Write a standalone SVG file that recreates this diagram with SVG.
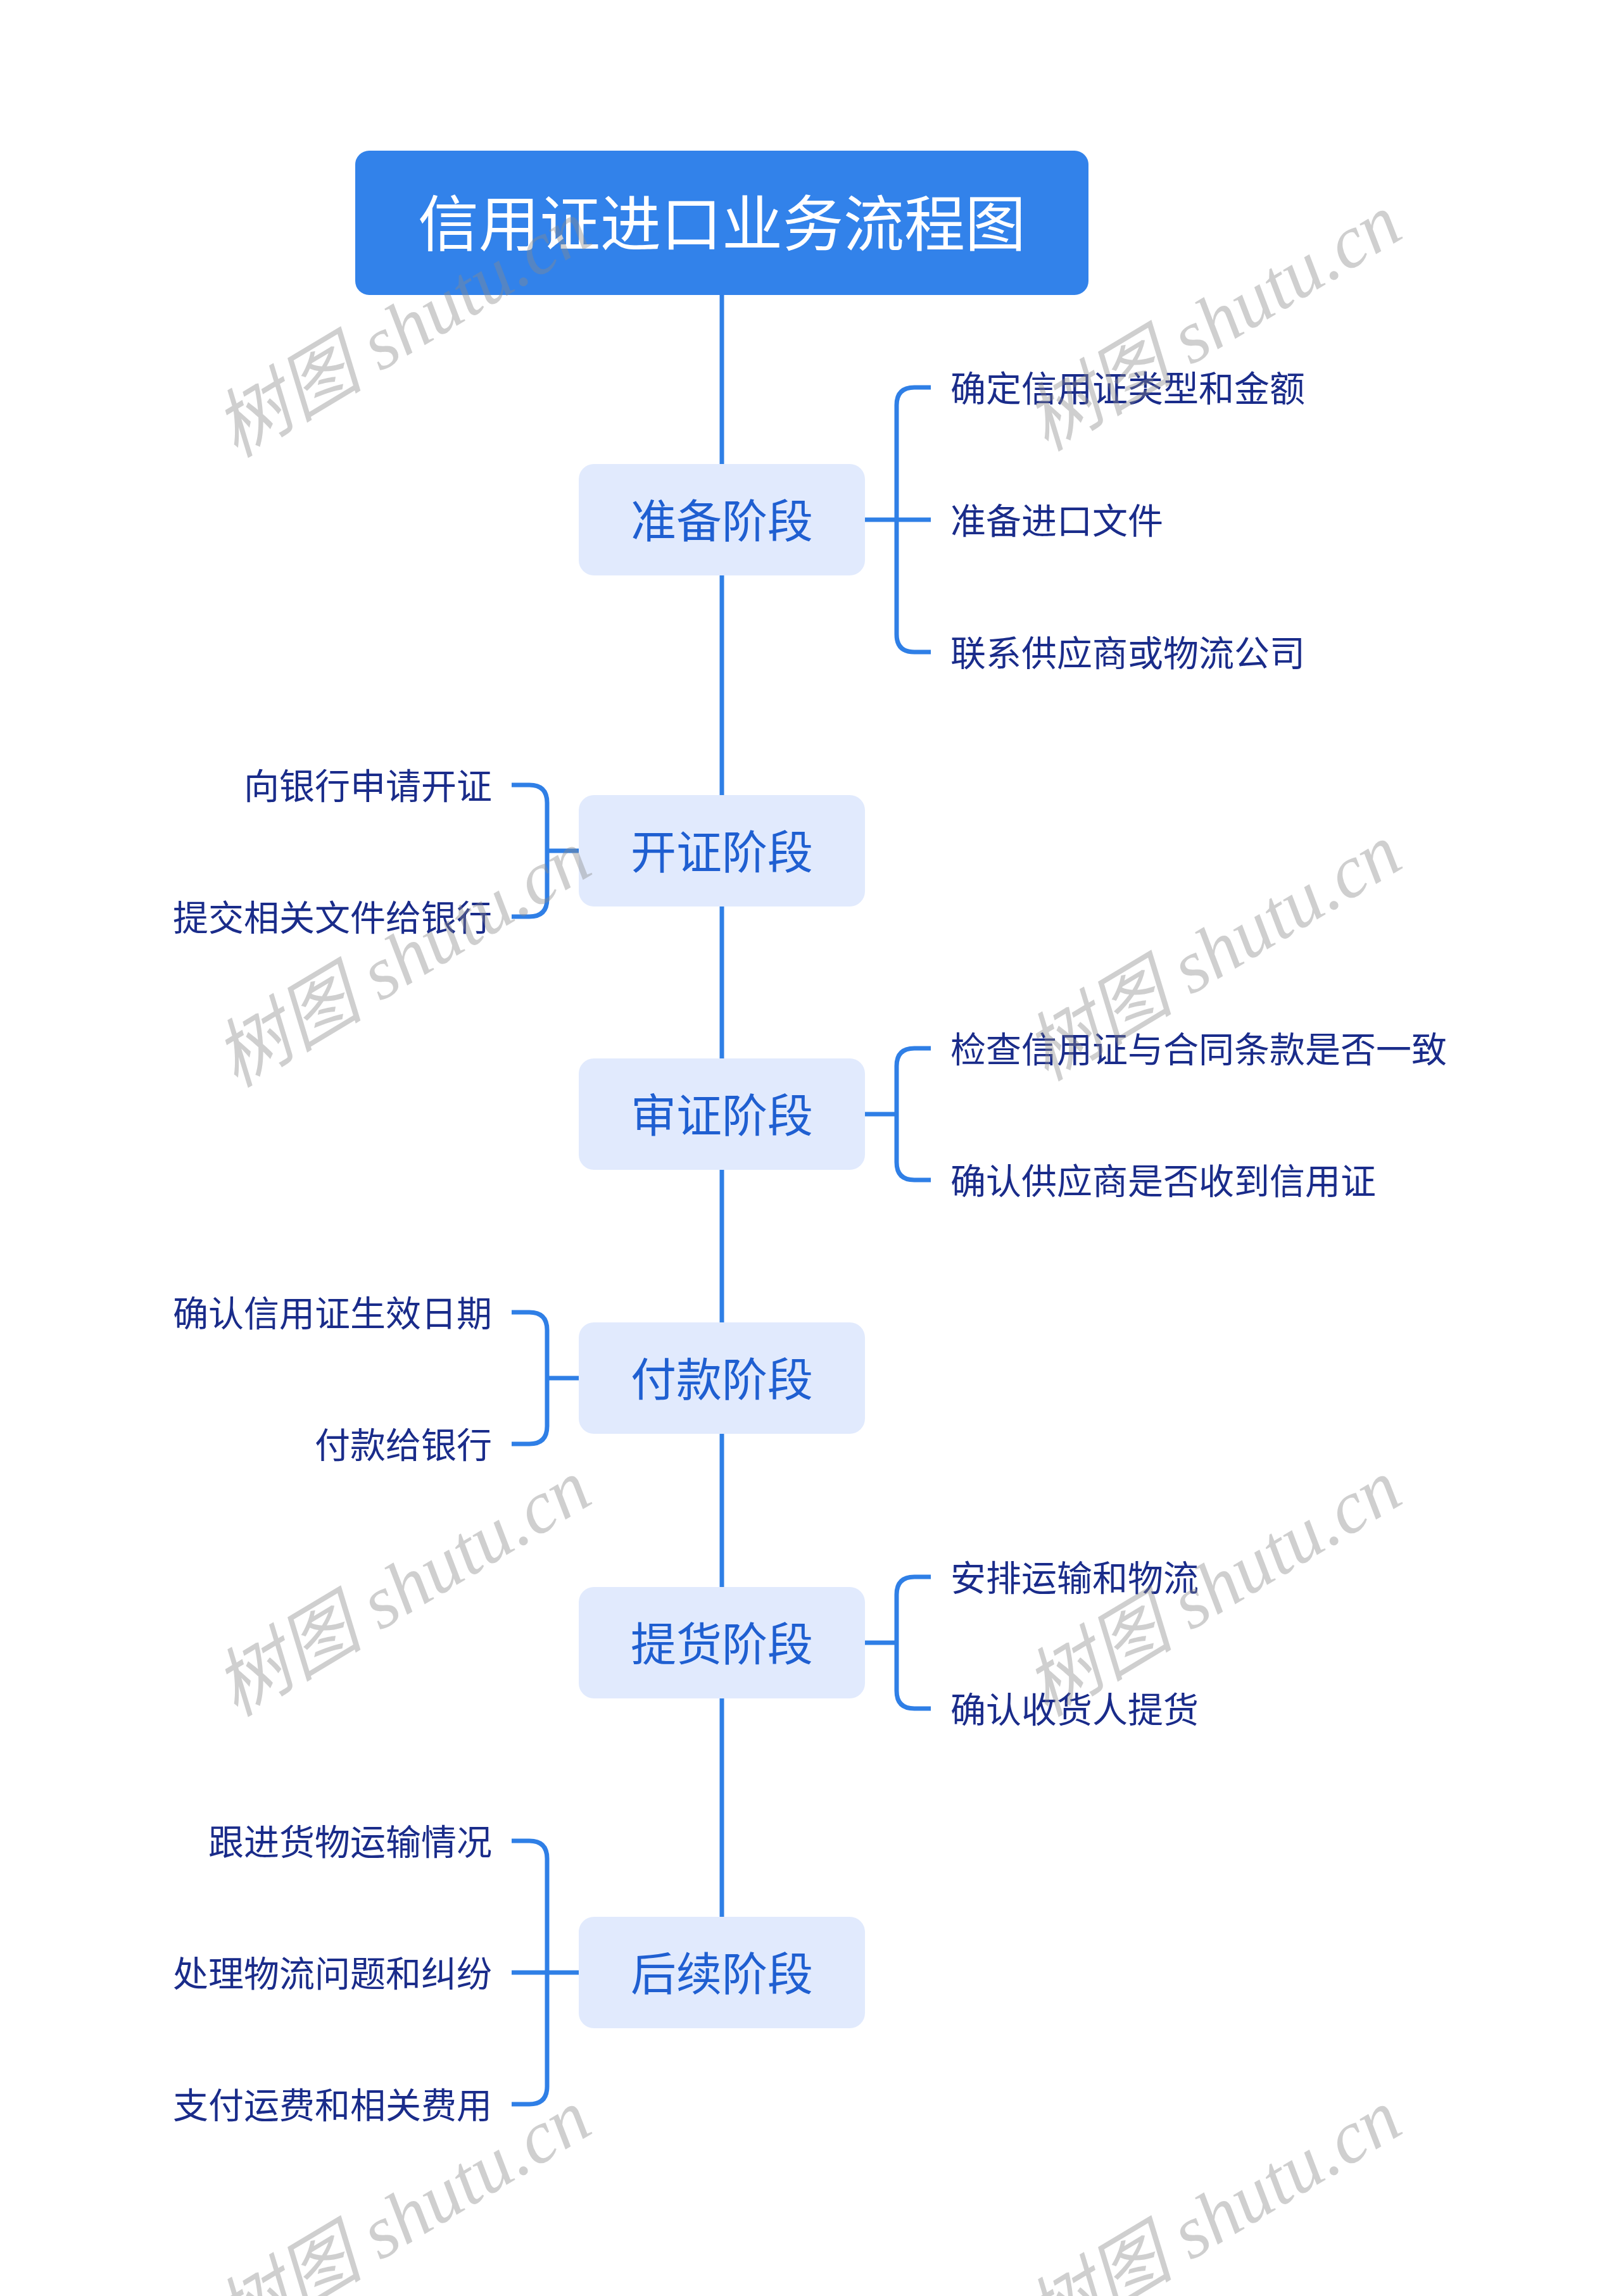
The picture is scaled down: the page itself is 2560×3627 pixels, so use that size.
<svg xmlns="http://www.w3.org/2000/svg" width="2560" height="3627" viewBox="0 0 2560 3627">
<style>
.title{font-family:"Noto Sans CJK SC","Noto Sans",sans-serif;font-size:96px;fill:#ffffff;text-anchor:middle;dominant-baseline:central}
.stage rect{fill:#e1eafd}
.stage text{font-family:"Noto Sans CJK SC","Noto Sans",sans-serif;font-size:72px;fill:#1f5fd1;text-anchor:middle;dominant-baseline:central}
.leaf{font-family:"Noto Sans CJK SC","Noto Sans",sans-serif;font-size:56px;fill:#1a2c8a;dominant-baseline:central}
.r{text-anchor:start}
.l{text-anchor:end}
.conn path{fill:none;stroke:#2f7fe6;stroke-width:7}
.wm{font-family:"Liberation Serif","Noto Sans CJK SC",serif;font-style:italic;font-size:118px;fill:#8a8a8a;opacity:0.4;text-anchor:middle;dominant-baseline:central}
</style>
<rect width="2560" height="3627" fill="#ffffff"/>
<g id="connectors" class="conn">
<path d="M1140 466 V3028"/>
<path d="M1366 821 H1470"/>
<path d="M1470 612 H1444 Q1416 612 1416 640 V1002 Q1416 1030 1444 1030 H1470"/>
<path d="M914 1344 H864"/>
<path d="M808 1240 H836 Q864 1240 864 1268 V1420 Q864 1448 836 1448 H808"/>
<path d="M1366 1760 H1416"/>
<path d="M1470 1656 H1444 Q1416 1656 1416 1684 V1836 Q1416 1864 1444 1864 H1470"/>
<path d="M914 2177 H864"/>
<path d="M808 2073 H836 Q864 2073 864 2101 V2253 Q864 2281 836 2281 H808"/>
<path d="M1366 2595 H1416"/>
<path d="M1470 2491 H1444 Q1416 2491 1416 2519 V2671 Q1416 2699 1444 2699 H1470"/>
<path d="M914 3116 H808"/>
<path d="M808 2908 H836 Q864 2908 864 2936 V3296 Q864 3324 836 3324 H808"/>
</g>
<g id="root">
<rect x="561" y="238" width="1158" height="228" rx="22" fill="#3282ea"/>
<text class="title" x="1140" y="346">信用证进口业务流程图</text>
</g>
<g id="stage1" class="stage"><rect x="914" y="733" width="452" height="176" rx="24"/><text x="1140" y="817">准备阶段</text></g>
<g id="stage2" class="stage"><rect x="914" y="1256" width="452" height="176" rx="24"/><text x="1140" y="1340">开证阶段</text></g>
<g id="stage3" class="stage"><rect x="914" y="1672" width="452" height="176" rx="24"/><text x="1140" y="1756">审证阶段</text></g>
<g id="stage4" class="stage"><rect x="914" y="2089" width="452" height="176" rx="24"/><text x="1140" y="2173">付款阶段</text></g>
<g id="stage5" class="stage"><rect x="914" y="2507" width="452" height="176" rx="24"/><text x="1140" y="2591">提货阶段</text></g>
<g id="stage6" class="stage"><rect x="914" y="3028" width="452" height="176" rx="24"/><text x="1140" y="3112">后续阶段</text></g>
<g id="leaf1a"><text class="leaf r" x="1501" y="609">确定信用证类型和金额</text></g>
<g id="leaf1b"><text class="leaf r" x="1501" y="818">准备进口文件</text></g>
<g id="leaf1c"><text class="leaf r" x="1501" y="1027">联系供应商或物流公司</text></g>
<g id="leaf2a"><text class="leaf l" x="777" y="1237">向银行申请开证</text></g>
<g id="leaf2b"><text class="leaf l" x="777" y="1445">提交相关文件给银行</text></g>
<g id="leaf3a"><text class="leaf r" x="1501" y="1653">检查信用证与合同条款是否一致</text></g>
<g id="leaf3b"><text class="leaf r" x="1501" y="1861">确认供应商是否收到信用证</text></g>
<g id="leaf4a"><text class="leaf l" x="777" y="2070">确认信用证生效日期</text></g>
<g id="leaf4b"><text class="leaf l" x="777" y="2278">付款给银行</text></g>
<g id="leaf5a"><text class="leaf r" x="1501" y="2488">安排运输和物流</text></g>
<g id="leaf5b"><text class="leaf r" x="1501" y="2696">确认收货人提货</text></g>
<g id="leaf6a"><text class="leaf l" x="777" y="2905">跟进货物运输情况</text></g>
<g id="leaf6b"><text class="leaf l" x="777" y="3113">处理物流问题和纠纷</text></g>
<g id="leaf6c"><text class="leaf l" x="777" y="3321">支付运费和相关费用</text></g>
<g id="watermarks">
<text class="wm" transform="translate(636 520) rotate(-31)">树图 shutu.cn</text>
<text class="wm" transform="translate(1916 510) rotate(-31)">树图 shutu.cn</text>
<text class="wm" transform="translate(636 1515) rotate(-31)">树图 shutu.cn</text>
<text class="wm" transform="translate(1916 1505) rotate(-31)">树图 shutu.cn</text>
<text class="wm" transform="translate(636 2509) rotate(-31)">树图 shutu.cn</text>
<text class="wm" transform="translate(1916 2509) rotate(-31)">树图 shutu.cn</text>
<text class="wm" transform="translate(636 3504) rotate(-31)">树图 shutu.cn</text>
<text class="wm" transform="translate(1916 3504) rotate(-31)">树图 shutu.cn</text>
</g>
</svg>
